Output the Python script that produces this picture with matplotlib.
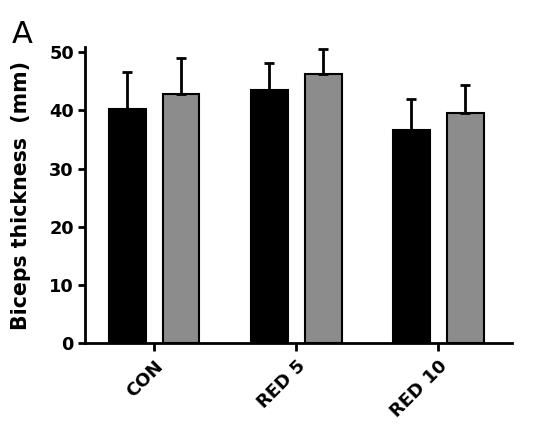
import matplotlib
matplotlib.use("Agg")
import matplotlib.pyplot as plt
import numpy as np

categories = ["CON", "RED 5", "RED 10"]
series1_mean = [40.2, 43.5, 36.7]
series1_err = [6.4, 4.6, 5.3]
series2_mean = [42.9, 46.2, 39.6]
series2_err = [6.1, 4.3, 4.8]
yticks = [0, 10, 20, 30, 40, 50]

plt.rcParams['font.family'] = ['DejaVu Sans']

fig = plt.figure(figsize=(5.4, 4.36), dpi=100)
ax = fig.add_axes([85/540, 1 - 343/436, (512-85)/540, (343-47)/436])

x = np.arange(len(categories))
w = 0.26
off = 0.19
ekw = dict(elinewidth=2.0, capthick=2.0, capsize=3.3, ecolor='black')
ax.bar(x - off, series1_mean, w, color='black', edgecolor='black', linewidth=1.5,
       yerr=[np.zeros(3), series1_err], error_kw=ekw, zorder=2)
ax.bar(x + off, series2_mean, w, color='#8c8c8c', edgecolor='black', linewidth=1.5,
       yerr=[np.zeros(3), series2_err], error_kw=ekw, zorder=2)

ax.set_xlim(-0.486, 2.52)
ax.set_ylim(0, 50.9)
ax.set_yticks(yticks)
ax.set_xticks(x)
ax.set_xticklabels(categories, rotation=45, ha='right', va='top', rotation_mode='anchor',
                   fontsize=13, fontweight='bold')
for lab in ax.get_yticklabels():
    lab.set_fontsize(12.8)
    lab.set_fontweight('bold')
ax.tick_params(axis='y', width=2, length=5, pad=3)
ax.tick_params(axis='x', width=2, length=6, pad=4)
ax.spines['top'].set_visible(False)
ax.spines['right'].set_visible(False)
ax.spines['left'].set_linewidth(2)
ax.spines['bottom'].set_linewidth(2)
ax.set_ylabel("Biceps thickness  (mm)", fontsize=14.8, fontweight='bold', labelpad=13)

fig.text(12/540, 1 - 43/436, "A", fontsize=22, ha='left', va='baseline')

fig.savefig("out.png", dpi=100)
